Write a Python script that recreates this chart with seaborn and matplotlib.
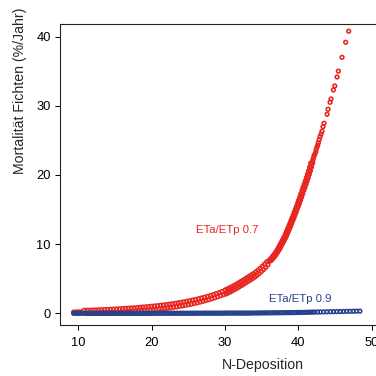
import matplotlib
matplotlib.use("Agg")
import pandas as pd
import matplotlib.pyplot as plt
import seaborn as sns

# ETa/ETp 0.7 (red), lower part as band edges, upper part single points
red_x = [
    9.35, 9.6, 9.85, 10.1, 10.35,
    10.8, 11.2, 11.6, 12.0, 12.4, 12.8, 13.2, 13.6, 14.0, 14.4, 14.8, 15.2, 15.6, 16.0, 16.4, 16.8,
    17.2, 17.6, 18.0, 18.4, 18.8, 19.2, 19.6, 20.0, 20.4, 20.8, 21.2, 21.6, 22.0, 22.4, 22.8, 23.2,
    23.6, 24.0, 24.4, 24.8, 25.2, 25.6, 26.0, 26.4, 26.8, 27.2, 27.6, 28.0, 28.4, 28.8, 29.2, 29.6,
    11.0, 11.4, 11.8, 12.2, 12.6, 13.0, 13.4, 13.8, 14.2, 14.6, 15.0, 15.4, 15.8, 16.2, 16.6, 17.0,
    17.4, 17.8, 18.2, 18.6, 19.0, 19.4, 19.8, 20.2, 20.6, 21.0, 21.4, 21.8, 22.2, 22.6, 23.0, 23.4,
    23.8, 24.2, 24.6, 25.0, 25.4, 25.8, 26.2, 26.6, 27.0, 27.4, 27.8, 28.2, 28.6, 29.0, 29.4, 29.8,
    30.0, 30.3, 30.6, 30.9, 31.2, 31.5, 31.8, 32.1, 32.4, 32.7, 33.0, 33.3, 33.6, 33.9, 34.2, 34.5,
    34.8, 35.1, 35.4, 35.7,
    30.15, 30.45, 30.75, 31.05, 31.35, 31.65, 31.95, 32.25, 32.55, 32.85, 33.15, 33.45, 33.75, 34.05,
    34.35, 34.65, 34.95, 35.25, 35.55, 35.85,
    36.0, 36.15, 36.3, 36.45, 36.6, 36.75, 36.9, 37.05, 37.2, 37.35, 37.5, 37.65, 37.8, 37.95, 38.1,
    38.25, 38.4, 38.55, 38.7, 38.85, 39.0, 39.15, 39.3, 39.45, 39.6, 39.75, 39.9, 40.05, 40.2, 40.35,
    40.5, 40.65, 40.8, 40.95, 41.1, 41.25, 41.4, 41.55, 41.7,
    36.12, 36.27, 36.42, 36.57, 36.72, 36.87, 37.02, 37.17, 37.32, 37.47, 37.62, 37.77, 37.92, 38.07,
    38.22, 38.37, 38.52, 38.67, 38.82, 38.97, 39.12, 39.27, 39.42, 39.57, 39.72, 39.87, 40.02, 40.17,
    40.32, 40.47, 40.62, 40.77, 40.92, 41.07, 41.22, 41.37, 41.52, 41.67, 41.82,
    36.25, 36.4, 36.55, 36.7, 36.85, 37.0, 37.15, 37.3, 37.45, 37.6, 37.75, 37.9, 38.05, 38.2, 38.35,
    38.5, 38.65, 38.8, 38.95, 39.1, 39.25, 39.4, 39.55, 39.7, 39.85, 40.0, 40.15, 40.3, 40.45, 40.6,
    40.75, 40.9, 41.05, 41.2, 41.35, 41.5, 41.65, 41.8, 41.95,
    41.96, 42.05, 42.14, 42.25, 42.37, 42.45, 42.55, 42.65, 42.73, 42.85, 42.96, 43.1, 43.23, 43.37,
    43.51, 43.92, 44.05, 44.33, 44.46, 44.78, 44.97, 45.28, 45.46, 45.96, 46.46, 46.87,
]
red_y = [
    0.17, 0.17, 0.18, 0.19, 0.19,
    0.43, 0.44, 0.45, 0.47, 0.48, 0.50, 0.52, 0.54, 0.56, 0.58, 0.60, 0.62, 0.65, 0.68, 0.71, 0.73,
    0.76, 0.79, 0.82, 0.86, 0.90, 0.93, 0.97, 1.01, 1.06, 1.10, 1.15, 1.20, 1.26, 1.31, 1.37, 1.44,
    1.51, 1.58, 1.65, 1.74, 1.82, 1.91, 2.00, 2.10, 2.21, 2.32, 2.44, 2.57, 2.70, 2.84, 2.99, 3.15,
    0.00, 0.01, 0.02, 0.03, 0.04, 0.05, 0.07, 0.08, 0.09, 0.11, 0.12, 0.14, 0.16, 0.18, 0.21, 0.23,
    0.26, 0.29, 0.32, 0.35, 0.38, 0.42, 0.46, 0.50, 0.55, 0.60, 0.65, 0.70, 0.75, 0.81, 0.88, 0.94,
    1.01, 1.09, 1.16, 1.25, 1.33, 1.43, 1.52, 1.63, 1.74, 1.85, 1.97, 2.10, 2.24, 2.39, 2.54, 2.70,
    3.36, 3.51, 3.66, 3.82, 3.99, 4.17, 4.36, 4.55, 4.74, 4.94, 5.14, 5.34, 5.54, 5.74, 5.98, 6.23,
    6.51, 6.81, 7.11, 7.44,
    2.81, 2.96, 3.12, 3.29, 3.46, 3.64, 3.83, 4.02, 4.22, 4.42, 4.62, 4.82, 5.02, 5.23,
    5.48, 5.74, 6.04, 6.34, 6.65, 7.00,
    7.6, 7.78, 7.95, 8.15, 8.35, 8.57, 8.8, 9.05, 9.3, 9.6, 9.9, 10.2, 10.5, 10.8, 11.1,
    11.47, 11.85, 12.22, 12.6, 13.0, 13.4, 13.8, 14.2, 14.62, 15.05, 15.47, 15.9, 16.35, 16.8, 17.27,
    17.75, 18.2, 18.65, 19.12, 19.6, 20.1, 20.6, 21.15, 21.7,
    7.6, 7.78, 7.95, 8.15, 8.35, 8.57, 8.8, 9.05, 9.3, 9.6, 9.9, 10.2, 10.5, 10.8, 11.1,
    11.47, 11.85, 12.22, 12.6, 13.0, 13.4, 13.8, 14.2, 14.62, 15.05, 15.47, 15.9, 16.35, 16.8, 17.27,
    17.75, 18.2, 18.65, 19.12, 19.6, 20.1, 20.6, 21.15, 21.7,
    7.6, 7.78, 7.95, 8.15, 8.35, 8.57, 8.8, 9.05, 9.3, 9.6, 9.9, 10.2, 10.5, 10.8, 11.1,
    11.47, 11.85, 12.22, 12.6, 13.0, 13.4, 13.8, 14.2, 14.62, 15.05, 15.47, 15.9, 16.35, 16.8, 17.27,
    17.75, 18.2, 18.65, 19.12, 19.6, 20.1, 20.6, 21.15, 21.7,
    22.06, 22.4, 22.74, 23.0, 23.32, 23.7, 24.04, 24.3, 24.66, 25.1, 25.53, 25.9, 26.31, 26.98,
    27.47, 28.77, 29.49, 30.5, 30.98, 32.28, 32.86, 34.16, 35.0, 37.0, 39.18, 40.77,
]

# ETa/ETp 0.9 (blue) - stays close to zero
blue_x = [
    9.35, 9.6, 9.85, 10.1, 10.35,
    10.75, 11.0, 11.25, 11.5, 11.75, 12.0, 12.25, 12.5, 12.75, 13.0, 13.25, 13.5, 13.75, 14.0, 14.25,
    14.5, 14.75, 15.0, 15.25, 15.5, 15.75, 16.0, 16.25, 16.5, 16.75, 17.0, 17.25, 17.5, 17.75, 18.0,
    18.25, 18.5, 18.75, 19.0, 19.25, 19.5, 19.75, 20.0, 20.25, 20.5, 20.75, 21.0, 21.25, 21.5, 21.75,
    22.0, 22.25, 22.5, 22.75, 23.0, 23.25, 23.5, 23.75, 24.0, 24.25, 24.5, 24.75, 25.0, 25.25, 25.5,
    25.75, 26.0, 26.25, 26.5, 26.75, 27.0, 27.25, 27.5, 27.75, 28.0, 28.25, 28.5, 28.75, 29.0, 29.25,
    29.5, 29.75, 30.0, 30.25, 30.5, 30.75, 31.0, 31.25, 31.5, 31.75, 32.0, 32.25, 32.5, 32.75, 33.0,
    33.25,
    33.5, 33.8, 34.1, 34.4, 34.7, 35.0, 35.3, 35.6, 35.9, 36.2, 36.5, 36.8, 37.1, 37.4, 37.7, 38.0,
    38.3, 38.6, 38.9, 39.2, 39.5, 39.8, 40.1, 40.4, 40.7,
    41.0, 41.3, 41.6, 41.9, 42.2, 42.6, 43.0, 43.45, 43.9, 44.35, 44.8, 45.25, 45.7, 46.15, 46.6,
    47.05, 47.5, 47.95, 48.4,
]
blue_y = [
    0.0, 0.0, 0.0, 0.0, 0.0,
    0.0, 0.0, 0.0, 0.0, 0.0, 0.0, 0.0, 0.0, 0.0, 0.0, 0.0, 0.0, 0.0, 0.0, 0.0,
    0.0, 0.0, 0.0, 0.0, 0.0, 0.0, 0.0, 0.0, 0.0, 0.0, 0.0, 0.0, 0.0, 0.0, 0.0,
    0.0, 0.0, 0.0, 0.0, 0.0, 0.0, 0.0, 0.01, 0.01, 0.01, 0.01, 0.01, 0.01, 0.01, 0.01,
    0.01, 0.01, 0.01, 0.01, 0.01, 0.01, 0.01, 0.01, 0.01, 0.01, 0.01, 0.01, 0.01, 0.01, 0.01,
    0.01, 0.02, 0.02, 0.02, 0.02, 0.02, 0.02, 0.02, 0.02, 0.02, 0.02, 0.02, 0.02, 0.02, 0.02,
    0.02, 0.02, 0.03, 0.03, 0.03, 0.03, 0.03, 0.03, 0.03, 0.03, 0.03, 0.03, 0.03, 0.03, 0.03,
    0.03,
    0.04, 0.04, 0.05, 0.05, 0.05, 0.06, 0.06, 0.06, 0.07, 0.07, 0.07, 0.08, 0.08, 0.08, 0.09, 0.09,
    0.10, 0.10, 0.10, 0.11, 0.11, 0.12, 0.12, 0.13, 0.13,
    0.14, 0.15, 0.16, 0.17, 0.18, 0.19, 0.20, 0.21, 0.22, 0.23, 0.24, 0.25, 0.26, 0.27, 0.28,
    0.29, 0.30, 0.31, 0.32,
]

series_names = ["ETa/ETp 0.7", "ETa/ETp 0.9"]
series_colors = ["#E8251F", "#27408B"]
label_x = [30.3, 40.2]
label_y = [12.0, 2.0]
x_ticks = [10, 20, 30, 40, 50, 60]
y_ticks = [0, 10, 20, 30, 40]

sns.set_style("ticks")
plt.rcParams['font.family'] = ['Liberation Sans', 'DejaVu Sans']

df = pd.concat([
    pd.DataFrame({'ndep': red_x, 'mort': red_y, 'eta': series_names[0]}),
    pd.DataFrame({'ndep': blue_x, 'mort': blue_y, 'eta': series_names[1]}),
], ignore_index=True)

fig = plt.figure(figsize=(3.76, 3.76), dpi=100)
# plot region runs past the right edge of the picture, like the cropped original
ax = fig.add_axes([0.1596, 0.1356, 1.0798, 0.8006])

sns.scatterplot(data=df, x='ndep', y='mort', hue='eta',
                palette=dict(zip(series_names, series_colors)),
                s=7, linewidth=1.15, legend=False, ax=ax)
# open circles
for coll in ax.collections:
    coll.set_edgecolors(coll.get_facecolors())
    coll.set_facecolors('none')

for name, col, tx, ty in zip(series_names, series_colors, label_x, label_y):
    ax.text(tx, ty, name, color=col, fontsize=8.2, ha='center', va='center')

ax.set_xlim(7.5, 62.87)
ax.set_ylim(-1.69, 41.82)
ax.set_xticks(x_ticks)
ax.set_yticks(y_ticks)
ax.tick_params(direction='out', length=3.6, width=0.75, labelsize=9.3, colors='black')
ax.tick_params(axis='x', pad=5)
ax.tick_params(axis='y', pad=2.9)
for sp in ax.spines.values():
    sp.set_linewidth(0.8)
    sp.set_color('#222222')

ax.set_xlabel('N-Deposition', fontsize=10.2, va='center')
ax.xaxis.set_label_coords(0.5, -0.133)
ax.set_ylabel('Mortalität Fichten (%/Jahr)', fontsize=10.2, va='center')
ax.yaxis.set_label_coords(-0.0993, 0.778)

fig.savefig('out.png', dpi=100)
